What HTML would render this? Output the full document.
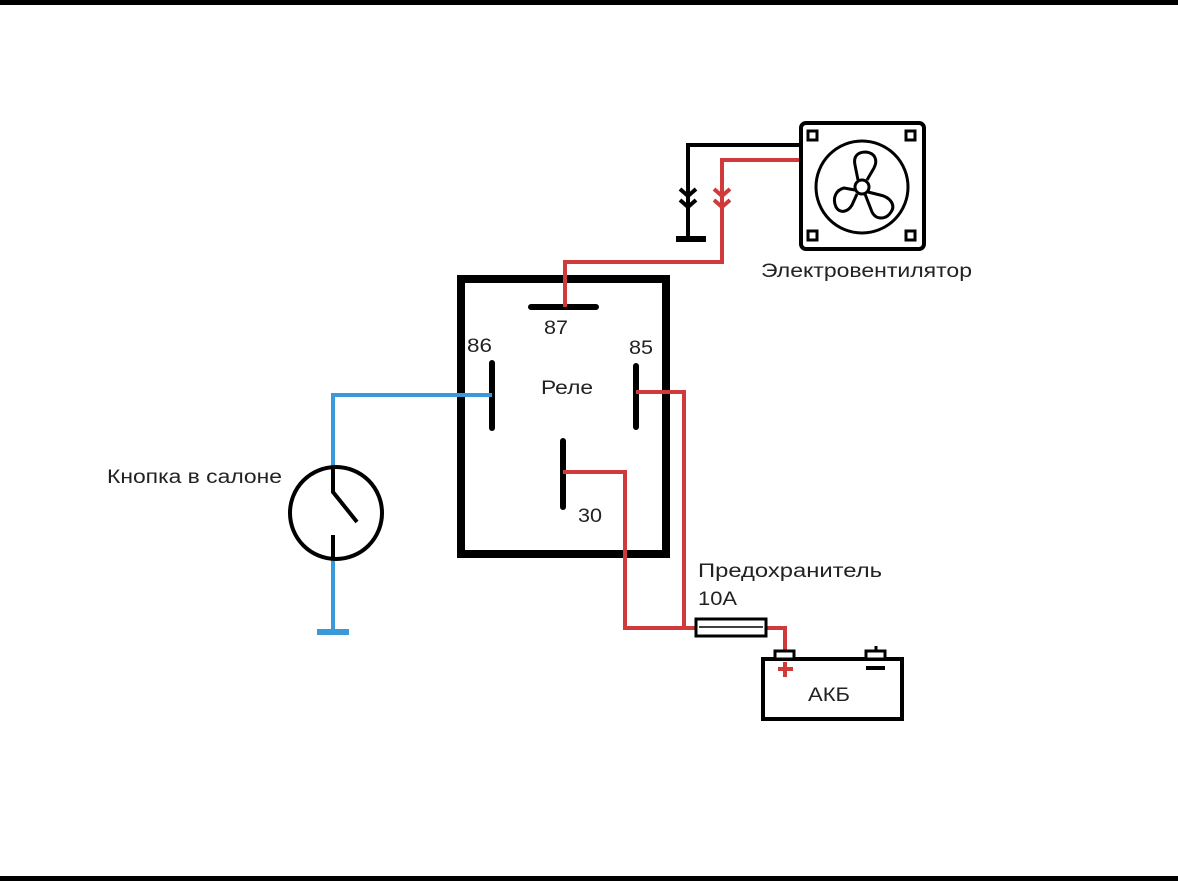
<!DOCTYPE html>
<html><head><meta charset="utf-8"><style>
html,body{margin:0;padding:0;background:#fff;}
svg{display:block;}
text{font-family:"Liberation Sans","DejaVu Sans",sans-serif;fill:#222;}
</style></head><body>
<svg width="1178" height="881" viewBox="0 0 1178 881" xmlns="http://www.w3.org/2000/svg">
<rect x="0" y="0" width="1178" height="5" fill="#000"/>
<rect x="0" y="876" width="1178" height="5" fill="#000"/>
<!-- relay -->
<rect x="461" y="279" width="205" height="275" fill="none" stroke="#000" stroke-width="8"/>
<g stroke="#000" stroke-width="6" stroke-linecap="round">
<line x1="531" y1="307" x2="596" y2="307"/>
<line x1="492" y1="363" x2="492" y2="428"/>
<line x1="636" y1="366" x2="636" y2="427"/>
<line x1="563" y1="441" x2="563" y2="507"/>
</g>
<text x="544" y="334" font-size="19" textLength="24" lengthAdjust="spacingAndGlyphs">87</text>
<text x="467" y="352" font-size="19" textLength="25" lengthAdjust="spacingAndGlyphs">86</text>
<text x="629" y="354" font-size="19" textLength="24" lengthAdjust="spacingAndGlyphs">85</text>
<text x="541" y="394" font-size="19" textLength="52" lengthAdjust="spacingAndGlyphs">Реле</text>
<text x="578" y="522" font-size="19" textLength="24" lengthAdjust="spacingAndGlyphs">30</text>
<!-- red wires -->
<g fill="none" stroke="#d13a3a" stroke-width="4">
<polyline points="565,307 565,262 722,262 722,160 800,160"/>
<polyline points="636,392 684,392 684,628 695,628"/>
<polyline points="563,472 625,472 625,628 695,628"/>
<polyline points="767,628 785,628 785,652"/>
<polyline points="714,189 722,196 730,189"/>
<polyline points="714,200 722,207 730,200"/>
</g>
<g fill="none" stroke="#000" stroke-width="4">
<polyline points="800,145 688,145 688,238"/>
<polyline points="680,189 688,196 696,189"/>
<polyline points="680,200 688,207 696,200"/>
</g>
<line x1="676" y1="239" x2="706" y2="239" stroke="#000" stroke-width="6"/>
<!-- fan -->
<rect x="801" y="123" width="123" height="126" rx="5" fill="#fff" stroke="#000" stroke-width="4"/>
<rect x="808" y="131" width="9" height="9" fill="none" stroke="#000" stroke-width="3"/>
<rect x="906" y="131" width="9" height="9" fill="none" stroke="#000" stroke-width="3"/>
<rect x="808" y="231" width="9" height="9" fill="none" stroke="#000" stroke-width="3"/>
<rect x="906" y="231" width="9" height="9" fill="none" stroke="#000" stroke-width="3"/>
<circle cx="862" cy="187" r="46" fill="none" stroke="#000" stroke-width="3"/>
<circle cx="862" cy="187" r="7" fill="none" stroke="#000" stroke-width="3"/>
<g fill="none" stroke="#000" stroke-width="3" stroke-linejoin="round">
<path d="M858,180 L855,165 C853,156 858,152 866,152 C875,153 878,160 874,168 L867,180"/>
<path d="M855,190 L844,188 C836,190 832,198 836,207 C840,214 848,212 852,205 L857,194"/>
<path d="M868,192 L880,195 C890,197 896,205 891,212 C886,220 876,220 872,212 L865,194"/>
</g>
<text x="761" y="277" font-size="19" textLength="211" lengthAdjust="spacingAndGlyphs">Электровентилятор</text>
<!-- blue wires / switch -->
<g fill="none" stroke="#3a9ad9" stroke-width="4">
<polyline points="492,395 333,395 333,468"/>
<line x1="333" y1="560" x2="333" y2="630"/>
</g>
<line x1="317" y1="632" x2="349" y2="632" stroke="#3a9ad9" stroke-width="6"/>
<circle cx="336" cy="513" r="46" fill="none" stroke="#000" stroke-width="4"/>
<polyline points="333,468 333,492 357,522" fill="none" stroke="#000" stroke-width="4"/>
<line x1="333" y1="535" x2="333" y2="560" stroke="#000" stroke-width="4"/>
<text x="107" y="483" font-size="19" textLength="175" lengthAdjust="spacingAndGlyphs">Кнопка в салоне</text>
<!-- fuse -->
<rect x="696" y="619" width="70" height="17" fill="#fff" stroke="#000" stroke-width="3"/>
<line x1="699" y1="627" x2="763" y2="627" stroke="#000" stroke-width="1.5"/>
<text x="698" y="577" font-size="19" textLength="184" lengthAdjust="spacingAndGlyphs">Предохранитель</text>
<text x="698" y="605" font-size="19" textLength="39" lengthAdjust="spacingAndGlyphs">10А</text>
<!-- battery -->
<rect x="763" y="659" width="139" height="60" fill="#fff" stroke="#000" stroke-width="4"/>
<rect x="775" y="651" width="19" height="8" fill="#fff" stroke="#000" stroke-width="3"/>
<rect x="866" y="651" width="19" height="8" fill="#fff" stroke="#000" stroke-width="3"/>
<line x1="876" y1="646" x2="876" y2="651" stroke="#000" stroke-width="3"/>
<g stroke="#d13a3a" stroke-width="4"><line x1="778" y1="669" x2="793" y2="669"/><line x1="785" y1="662" x2="785" y2="677"/></g>
<line x1="866" y1="668" x2="885" y2="668" stroke="#000" stroke-width="4"/>
<text x="808" y="701" font-size="19" textLength="42" lengthAdjust="spacingAndGlyphs">АКБ</text>
</svg>
</body></html>
